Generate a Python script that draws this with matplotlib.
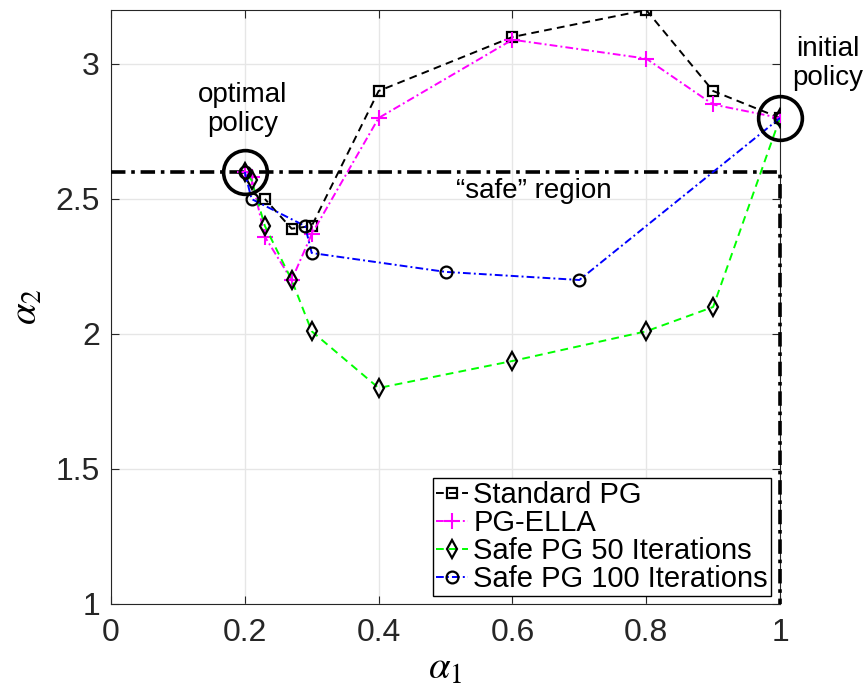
import numpy as np
import matplotlib.pyplot as plt

plt.rcParams['font.family'] = ['Liberation Sans', 'DejaVu Sans']
plt.rcParams['mathtext.fontset'] = 'stix'

# Standard PG
std_x = [1.0, 0.9, 0.8, 0.6, 0.4, 0.3, 0.27, 0.23]
std_y = [2.8, 2.9, 3.2, 3.1, 2.9, 2.4, 2.39, 2.5]

# PG-ELLA
ella_x = [1.0, 0.9, 0.8, 0.6, 0.4, 0.3, 0.27, 0.23, 0.21, 0.2]
ella_y = [2.8, 2.85, 3.02, 3.09, 2.8, 2.37, 2.2, 2.36, 2.58, 2.6]

# Safe PG 50 iterations
s50_x = [1.0, 0.9, 0.8, 0.6, 0.4, 0.3, 0.27, 0.23, 0.21, 0.2]
s50_y = [2.8, 2.1, 2.01, 1.9, 1.8, 2.01, 2.2, 2.4, 2.57, 2.6]

# Safe PG 100 iterations
s100_x = [1.0, 0.7, 0.5, 0.3, 0.29, 0.21, 0.2]
s100_y = [2.8, 2.2, 2.23, 2.3, 2.4, 2.5, 2.6]

# safe region boundary
safe_x = [0, 1, 1]
safe_y = [2.6, 2.6, 1]

# highlighted policies
opt_pt = (0.2, 2.6)
init_pt = (1.0, 2.8)

dashed = (0, (4, 2.7))
dashdot = (0, (4, 1.6, 1, 1.6))

fig = plt.figure(figsize=(8.64, 6.94), dpi=100)
ax = fig.add_axes([0.1285, 0.1297, 0.7743, 0.8559])

ax.plot(safe_x, safe_y, color='black', linestyle=dashdot, linewidth=2.6, clip_on=False, zorder=3)

ax.plot(std_x, std_y, color='black', linestyle=dashed, linewidth=1.4,
        marker='s', markersize=7, markerfacecolor='none', markeredgecolor='black',
        markeredgewidth=1.6, label='Standard PG', zorder=4)
ax.plot(ella_x, ella_y, color='magenta', linestyle=dashdot, linewidth=1.4,
        marker='+', markersize=11, markeredgewidth=1.5, label='PG-ELLA', zorder=4)
ax.plot(s50_x, s50_y, color='#00ff00', linestyle=dashed, linewidth=1.4,
        marker='d', markersize=9, markerfacecolor='none', markeredgecolor='black',
        markeredgewidth=1.6, label='Safe PG 50 Iterations', zorder=4)
ax.plot(s100_x, s100_y, color='blue', linestyle=dashdot, linewidth=1.4,
        marker='o', markersize=8.5, markerfacecolor='none', markeredgecolor='black',
        markeredgewidth=1.6, label='Safe PG 100 Iterations', zorder=4)

for p in (opt_pt, init_pt):
    ax.plot([p[0]], [p[1]], marker='o', markersize=31.5, markerfacecolor='none',
            markeredgecolor='black', markeredgewidth=2.6, clip_on=False, zorder=5)

ax.text(0.197, 2.83, 'optimal\npolicy', ha='center', va='center', fontsize=20, linespacing=1.15)
ax.text(1.072, 3.0, 'initial\npolicy', ha='center', va='center', fontsize=20, linespacing=1.15,
        clip_on=False)
ax.text(0.632, 2.53, '\u201csafe\u201d region', ha='center', va='center', fontsize=20)

ax.set_xlim(0, 1)
ax.set_ylim(1, 3.2)
ax.set_xticks([0, 0.2, 0.4, 0.6, 0.8, 1])
ax.set_xticklabels(['0', '0.2', '0.4', '0.6', '0.8', '1'])
ax.set_yticks([1, 1.5, 2, 2.5, 3])
ax.set_yticklabels(['1', '1.5', '2', '2.5', '3'])
ax.tick_params(direction='in', top=True, right=True, labelsize=23, length=6, color='#262626',
               labelcolor='#262626')
ax.tick_params(axis='x', pad=10)
ax.tick_params(axis='y', pad=8)
ax.grid(True, color='#e6e6e6', linewidth=1)
ax.set_axisbelow(True)
for s in ax.spines.values():
    s.set_color('#262626')

ax.set_xlabel(r'$\alpha_1$', fontsize=28, labelpad=2)
ax.set_ylabel(r'$\alpha_2$', fontsize=28, labelpad=8)

leg = ax.legend(loc='lower right', bbox_to_anchor=(0.9865, 0.0135), fontsize=21,
                handlelength=1.1, handletextpad=0.2, borderpad=0.1, labelspacing=0.0,
                fancybox=False, framealpha=1, edgecolor='black', borderaxespad=0)
leg.get_frame().set_linewidth(1)

fig.savefig('out.png', dpi=100)
